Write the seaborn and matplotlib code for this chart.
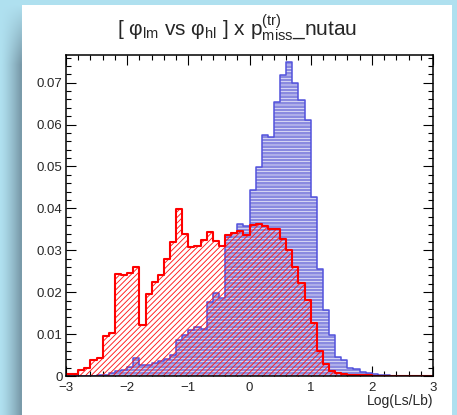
import numpy as np
import pandas as pd
import matplotlib
matplotlib.use("Agg")
import matplotlib.pyplot as plt
import seaborn as sns
from matplotlib.patches import Rectangle
from matplotlib.ticker import MultipleLocator, FuncFormatter

# Normalised Log(Ls/Lb) distributions, 60 bins of width 0.1 on [-3, 3]
x_lo, x_hi, n_bins = -3.0, 3.0, 60

sig_frac = [
    0.0000, 0.0000, 0.0000, 0.0001, 0.0001, 0.0002, 0.0003, 0.0006, 0.0012, 0.0015,
    0.0022, 0.0044, 0.0027, 0.0027, 0.0031, 0.0036, 0.0040, 0.0050, 0.0085, 0.0097,
    0.0110, 0.0118, 0.0113, 0.0177, 0.0197, 0.0185, 0.0332, 0.0342, 0.0362, 0.0357,
    0.0444, 0.0498, 0.0574, 0.0571, 0.0653, 0.0719, 0.0749, 0.0700, 0.0659, 0.0611,
    0.0427, 0.0255, 0.0158, 0.0099, 0.0045, 0.0039, 0.0018, 0.0016, 0.0010, 0.0006,
    0.0004, 0.0003, 0.0002, 0.0001, 0.0001, 0.0001, 0.0001, 0.0000, 0.0000, 0.0000,
]

bkg_frac = [
    0.00055, 0.00055, 0.00135, 0.0018, 0.0037, 0.0042, 0.0095, 0.0103, 0.0243, 0.0240,
    0.0246, 0.0259, 0.0121, 0.0195, 0.0224, 0.0241, 0.0280, 0.0319, 0.0399, 0.0338,
    0.0309, 0.0311, 0.0325, 0.0343, 0.0323, 0.0310, 0.0337, 0.0342, 0.0346, 0.0337,
    0.0360, 0.0362, 0.0357, 0.0351, 0.0350, 0.0326, 0.0300, 0.0261, 0.0221, 0.0181,
    0.0127, 0.0059, 0.0028, 0.0012, 0.0008, 0.0005, 0.0003, 0.0003, 0.0002, 0.0002,
    0.0001, 0.0001, 0.0001, 0.0001, 0.0001, 0.0001, 0.0001, 0.0001, 0.0001, 0.0001,
]

x_ticks = [-3, -2, -1, 0, 1, 2, 3]
y_ticks = [0, 0.01, 0.02, 0.03, 0.04, 0.05, 0.06, 0.07]
title = r"[ $\mathregular{φ_{lm}}$ vs $\mathregular{φ_{hl}}$ ] x $\mathregular{p^{(tr)}_{miss}}$_nutau"
x_label = "Log(Ls/Lb)"

edges = np.linspace(x_lo, x_hi, n_bins + 1)
centers = 0.5 * (edges[:-1] + edges[1:])
df = pd.DataFrame({"llr": centers, "sig": sig_frac, "bkg": bkg_frac})

sns.set_style("ticks")
plt.rcParams["font.family"] = ["Liberation Sans", "DejaVu Sans"]
plt.rcParams["mathtext.fontset"] = "custom"
plt.rcParams["mathtext.rm"] = "Liberation Sans"
plt.rcParams["mathtext.it"] = "Liberation Sans"
plt.rcParams["mathtext.default"] = "regular"

W, H = 457, 415
fig = plt.figure(figsize=(W / 100, H / 100), dpi=100)

# canvas backdrop: pale blue frame with a shaded left margin, white pad on top
bg = fig.add_axes([0, 0, 1, 1], zorder=-10)
yy, xx = np.mgrid[0:H, 0:W]
light = np.array([0.69, 0.88, 0.94])
dark = np.array([0.48, 0.61, 0.67])
wx = np.clip(xx / 20.0, 0, 1) ** 1.3 * (xx < 22)
wy = np.clip((yy - 5) / 60.0, 0, 1)
w = (wx * wy)[..., None]
bg.imshow(light * (1 - w) + dark * w, extent=[0, W, H, 0], aspect="auto")
bg.add_patch(Rectangle((22, 5), 430, 410, facecolor="white", edgecolor="none"))
bg.set_xlim(0, W)
bg.set_ylim(H, 0)
bg.axis("off")

ax = fig.add_axes([66 / W, (H - 376) / H, 367 / W, 321 / H])
ax.set_facecolor("white")

bin_list = list(edges)

# signal: lavender fill with fine white horizontal hatching, blue outline
with plt.rc_context({"hatch.linewidth": 0.45}):
    sns.histplot(data=df, x="llr", weights="sig", bins=bin_list, element="bars", stat="count",
                 fill=True, facecolor="#8a8ae0", edgecolor="white", linewidth=0,
                 hatch="-----", ax=ax, zorder=1)
sns.histplot(data=df, x="llr", weights="sig", bins=bin_list, element="step", stat="count",
             fill=False, color="#5252dc", linewidth=1.1, ax=ax, zorder=2)

# background: transparent red diagonal hatching with red outline
with plt.rc_context({"hatch.linewidth": 0.65}):
    sns.histplot(data=df, x="llr", weights="bkg", bins=bin_list, element="bars", stat="count",
                 fill=True, facecolor=(1, 1, 1, 0), edgecolor="#ff1a1a", linewidth=0,
                 hatch="//////", ax=ax, zorder=3)
sns.histplot(data=df, x="llr", weights="bkg", bins=bin_list, element="step", stat="count",
             fill=False, color="#ff0000", linewidth=1.5, ax=ax, zorder=4)

ax.set_xlim(x_lo, x_hi)
ax.set_ylim(0, 0.0766)
ax.set_xlabel("")
ax.set_ylabel("")

ax.set_xticks(x_ticks)
ax.xaxis.set_minor_locator(MultipleLocator(0.2))
ax.set_yticks(y_ticks)
ax.yaxis.set_minor_locator(MultipleLocator(0.002))
ax.yaxis.set_major_formatter(FuncFormatter(lambda v, p: "0" if abs(v) < 1e-9 else f"{v:.2f}"))
ax.xaxis.set_major_formatter(FuncFormatter(lambda v, p: f"{v:.0f}".replace("-", "\u2212")))

ax.tick_params(which="both", direction="in", top=True, right=True, width=0.8, color="black")
ax.tick_params(which="major", length=7, labelsize=9.5)
ax.tick_params(axis="y", which="major", pad=2.4)
ax.tick_params(axis="x", which="major", pad=4.2)
ax.tick_params(which="minor", length=3.6)
for s in ax.spines.values():
    s.set_linewidth(1.1)
    s.set_color("black")
    s.set_zorder(6)

fig.text(237 / W, 1 - 36 / H, title, ha="center", va="baseline", fontsize=15)
fig.text(433 / W, 1 - 405 / H, x_label, ha="right", va="baseline", fontsize=10)

fig.savefig("out.png", dpi=100)
